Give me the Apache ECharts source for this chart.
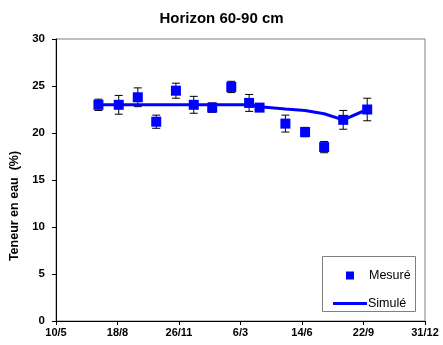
<!DOCTYPE html>
<html><head><meta charset="utf-8">
<script src="https://cdn.jsdelivr.net/npm/echarts@6/dist/echarts.min.js"></script>
</head><body style="margin:0;background:#fff">
<div id="c" style="width:443px;height:345px"></div>
<script>
const startDate = '2001-05-10';
const xTickLabels = ['10/5', '18/8', '26/11', '6/3', '14/6', '22/9', '31/12'];
const dates = ['2001-07-18','2001-08-20','2001-09-20','2001-10-20','2001-11-21','2001-12-20',
  '2002-01-19','2002-02-19','2002-03-20','2002-04-06','2002-05-18','2002-06-19','2002-07-20',
  '2002-08-20','2002-09-28'];
const measured = [23.0, 23.0, 23.8, 21.2, 24.5, 23.0, 22.7, 24.9, 23.2, 22.7, 21.0, 20.1, 18.5, 21.4, 22.5];
const errors = [0.6, 1.0, 1.0, 0.7, 0.8, 0.9, 0.5, 0.6, 0.9, 0.3, 0.9, 0.5, 0.6, 1.0, 1.2];
const simulated = [23.0, 23.0, 23.0, 23.0, 23.0, 23.0, 23.0, 23.0, 23.0, 22.8, 22.55, 22.4, 22.05, 21.4, 22.5];

const day = d => Math.round((Date.parse(d) - Date.parse(startDate)) / 86400000);
const xs = dates.map(day);
const measData = xs.map((x, i) => [x, measured[i]]);
const simData = xs.map((x, i) => [x, simulated[i]]);
const errData = xs.map((x, i) => [x, measured[i] - errors[i], measured[i] + errors[i]]);

const font = 'Arial, "Liberation Sans", sans-serif';
const chart = echarts.init(document.getElementById('c'));
chart.setOption({
  animation: false,
  title: { text: 'Horizon 60-90 cm', left: 'center', top: 6,
    textStyle: { fontFamily: font, fontSize: 15, fontWeight: 'bold', color: '#000' } },
  grid: { left: 56, right: 18, top: 39, bottom: 24, show: true, borderColor: '#808080', borderWidth: 1 },
  xAxis: { type: 'value', min: 0, max: 600, interval: 100,
    axisLine: { lineStyle: { color: '#000', width: 1 } },
    axisTick: { inside: false, length: 4, lineStyle: { color: '#000' } },
    splitLine: { show: false },
    axisLabel: { margin: 6, fontFamily: font, fontSize: 11, fontWeight: 'bold', color: '#000',
      formatter: v => xTickLabels[Math.round(v / 100)] } },
  yAxis: { type: 'value', min: 0, max: 30, interval: 5,
    name: 'Teneur en eau  (%)', nameLocation: 'middle', nameGap: 27,
    nameTextStyle: { fontFamily: font, fontSize: 12.5, fontWeight: 'bold', color: '#000', padding: [0, 52, 0, 0] },
    axisLine: { show: true, lineStyle: { color: '#000', width: 1 } },
    axisTick: { show: true, inside: false, length: 4, lineStyle: { color: '#000' } },
    splitLine: { show: false },
    axisLabel: { margin: 11, fontFamily: font, fontSize: 11.5, fontWeight: 'bold', color: '#000' } },
  legend: [
    { data: [{ name: 'Mesuré', icon: 'rect' }], left: 341, top: 264, itemWidth: 8, itemHeight: 8,
      textStyle: { fontFamily: font, fontSize: 12.5, color: '#000', padding: [0, 0, 0, 10] } },
    { data: [{ name: 'Simulé', icon: 'rect' }], left: 328, top: 292, itemWidth: 34, itemHeight: 3,
      textStyle: { fontFamily: font, fontSize: 12.5, color: '#000', padding: [0, 0, 0, -4] } }
  ],
  graphic: [{ type: 'rect', shape: { x: 322.5, y: 256.5, width: 93, height: 55 },
    style: { fill: '#fff', stroke: '#808080', lineWidth: 1 }, z: -1, silent: true }],
  series: [
    { type: 'custom', name: 'err', data: errData, z: 2,
      renderItem: (params, api) => {
        const top = api.coord([api.value(0), api.value(2)]);
        const bot = api.coord([api.value(0), api.value(1)]);
        const hw = 4;
        const st = { stroke: '#000', lineWidth: 1 };
        return { type: 'group', children: [
          { type: 'line', shape: { x1: top[0], y1: top[1], x2: bot[0], y2: bot[1] }, style: st },
          { type: 'line', shape: { x1: top[0] - hw, y1: top[1], x2: top[0] + hw, y2: top[1] }, style: st },
          { type: 'line', shape: { x1: bot[0] - hw, y1: bot[1], x2: bot[0] + hw, y2: bot[1] }, style: st }
        ] };
      } },
    { type: 'line', name: 'Simulé', data: simData, showSymbol: false, symbol: 'none', z: 3,
      lineStyle: { color: '#0000ff', width: 3 }, itemStyle: { color: '#0000ff' } },
    { type: 'scatter', name: 'Mesuré', data: measData, symbol: 'rect', symbolSize: 10, z: 4,
      itemStyle: { color: '#0000ff', opacity: 1 } }
  ]
});
</script>
</body></html>
